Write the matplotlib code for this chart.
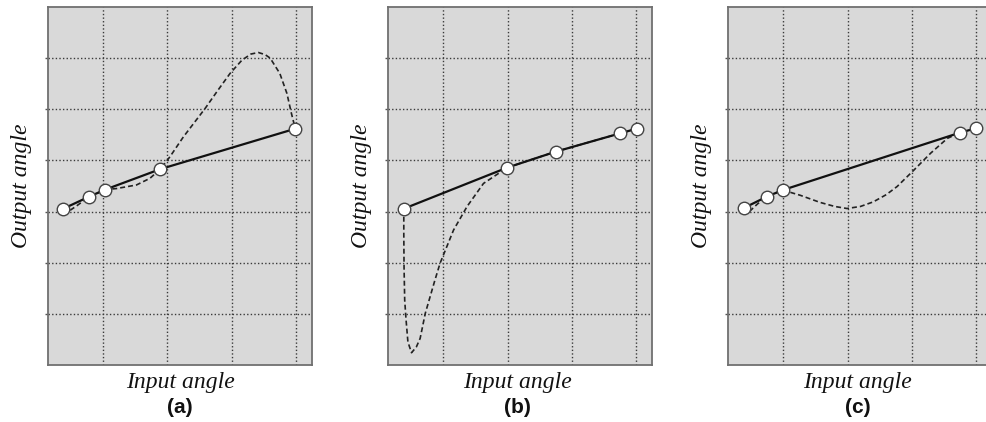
import matplotlib
matplotlib.use("Agg")
import matplotlib.pyplot as plt

# ==========================================
# DADOS
# ==========================================

# (a) pontos de controle e curva tracejada
a_pts_x = [0.383, 0.782, 1.036, 1.891, 3.99]
a_pts_y = [3.056, 3.29, 3.43, 3.83, 4.62]
a_dash_x = [0.383, 0.46, 0.60, 0.782, 1.036, 1.21, 1.52, 1.73, 1.891, 2.04, 2.25,
            2.42, 2.59, 2.78, 2.975, 3.16, 3.30, 3.415, 3.52, 3.60, 3.75, 3.86, 3.93, 3.99]
a_dash_y = [3.056, 3.00, 3.12, 3.29, 3.43, 3.45, 3.52, 3.65, 3.83, 4.07, 4.46,
            4.74, 5.02, 5.36, 5.70, 5.96, 6.08, 6.11, 6.07, 6.00, 5.70, 5.31, 4.92, 4.62]

# (b)
b_pts_x = [0.386, 1.995, 2.745, 3.75, 4.006]
b_pts_y = [3.056, 3.86, 4.17, 4.53, 4.62]
b_dash_x = [0.386, 0.386, 0.39, 0.40, 0.42, 0.45, 0.506, 0.58, 0.64, 0.72, 0.87,
            0.95, 1.16, 1.37, 1.625, 1.995, 2.745, 3.75, 4.006]
b_dash_y = [3.056, 2.57, 1.90, 1.27, 0.90, 0.45, 0.24, 0.35, 0.52, 1.01, 1.66,
            1.99, 2.64, 3.10, 3.55, 3.86, 4.17, 4.53, 4.62]

# (c)
c_pts_x = [0.388, 0.741, 0.99, 3.74, 4.0]
c_pts_y = [3.07, 3.29, 3.42, 4.54, 4.63]
c_dash_x = [0.388, 0.455, 0.60, 0.741, 0.99, 1.26, 1.57, 1.80, 1.99, 2.20, 2.40,
            2.60, 2.77, 3.03, 3.29, 3.55, 3.74, 4.0]
c_dash_y = [3.07, 2.98, 3.15, 3.29, 3.42, 3.32, 3.18, 3.10, 3.06, 3.10, 3.19,
            3.33, 3.49, 3.81, 4.14, 4.43, 4.54, 4.63]

painel_rotulos = ["(a)", "(b)", "(c)"]
x_ticks = [1, 2, 3, 4]
y_ticks = [1, 2, 3, 4, 5, 6]

# ==========================================
# FIGURA
# ==========================================

fig = plt.figure(figsize=(9.86, 4.22), dpi=100)

lefts = [48 / 986, 388.3 / 986, 728.3 / 986]
width = 264 / 986
bottom = 57 / 422
height = 358 / 422
label_x = [0.5, 0.49, 0.49]

dados = [
    (a_pts_x, a_pts_y, a_dash_x, a_dash_y),
    (b_pts_x, b_pts_y, b_dash_x, b_dash_y),
    (c_pts_x, c_pts_y, c_dash_x, c_dash_y),
]

for i, (px, py, dx, dy) in enumerate(dados):
    ax = fig.add_axes([lefts[i], bottom, width, height])
    ax.set_facecolor("#d9d9d9")
    ax.set_xlim(0.145, 4.25)
    ax.set_ylim(0, 7)
    ax.set_xticks(x_ticks)
    ax.set_yticks(y_ticks)
    ax.set_xticklabels([])
    ax.set_yticklabels([])
    ax.tick_params(axis="y", length=2.5, width=1, color="#555555", direction="out")
    ax.tick_params(axis="x", length=0)
    ax.grid(True, color="#3a3a3a", linestyle=(0, (1, 1.6)), linewidth=1.0)
    for sp in ax.spines.values():
        sp.set_color("#707070")
        sp.set_linewidth(1.3)

    ax.plot(dx, dy, color="#222222", linestyle=(0, (3, 1.8)), linewidth=1.2, zorder=3)
    ax.plot(px, py, color="#111111", linewidth=1.6, zorder=4)
    ax.plot(px, py, linestyle="none", marker="o", markersize=9,
            markerfacecolor="white", markeredgecolor="#444444", markeredgewidth=1.0, zorder=5)

    ax.text(-0.1, 0.5, "Output angle", rotation=90, transform=ax.transAxes,
            ha="center", va="center", fontsize=17, style="italic",
            family="Liberation Serif", color="#111111")
    ax.text(label_x[i], -0.048, "Input angle", transform=ax.transAxes,
            ha="center", va="center", fontsize=17, style="italic",
            family="Liberation Serif", color="#111111")
    ax.text(label_x[i], -0.12, painel_rotulos[i], transform=ax.transAxes,
            ha="center", va="center", fontsize=15, fontweight="bold",
            family="Liberation Sans", color="#111111")

fig.savefig("out.png", dpi=100)
